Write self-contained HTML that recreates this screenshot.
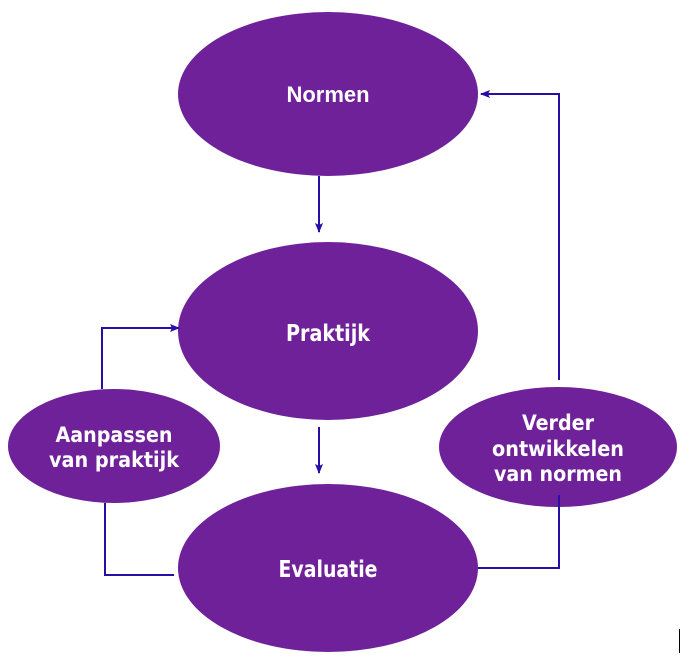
<!DOCTYPE html>
<html><head><meta charset="utf-8"><style>
html,body{margin:0;padding:0;background:#fff;}
svg{display:block;}
</style></head><body>
<svg width="688" height="663" viewBox="0 0 688 663" xmlns="http://www.w3.org/2000/svg">
<defs>
<marker id="ah" markerWidth="10" markerHeight="10" refX="9" refY="5" orient="auto" markerUnits="userSpaceOnUse">
<path d="M0,1 L10,5 L0,9 L2,5 Z" fill="#2a0ca6"/>
</marker>
</defs>
<g fill="#6f219a">
<ellipse cx="328" cy="94" rx="150" ry="82"/>
<ellipse cx="328" cy="331" rx="150" ry="89"/>
<ellipse cx="328" cy="568" rx="150" ry="84"/>
<ellipse cx="114" cy="446" rx="106" ry="57"/>
<ellipse cx="558" cy="447" rx="119" ry="60"/>
</g>
<g stroke="#2a0ca6" stroke-width="2" fill="none">
<line x1="319" y1="176" x2="319" y2="232" marker-end="url(#ah)"/>
<line x1="319" y1="427" x2="319" y2="473" marker-end="url(#ah)"/>
<polyline points="559,380 559,94 481,94" marker-end="url(#ah)"/>
<polyline points="478,568 559,568 559,495"/>
<polyline points="102,389 102,328 179,328" marker-end="url(#ah)"/>
<polyline points="105,503 105,575 174,575"/>
</g>
<line x1="679.5" y1="629" x2="679.5" y2="653" stroke="#000" stroke-width="1"/>
<g fill="#fff" text-anchor="middle" font-weight="bold">
<text x="328" y="102" font-family="Liberation Sans, Arial, sans-serif" font-size="22">Normen</text>
<text x="328" y="341" font-family="DejaVu Sans Condensed, DejaVu Sans, sans-serif" font-size="23" font-stretch="condensed" textLength="84" lengthAdjust="spacingAndGlyphs">Praktijk</text>
<text x="328" y="577" font-family="DejaVu Sans Condensed, DejaVu Sans, sans-serif" font-size="23" font-stretch="condensed" textLength="99" lengthAdjust="spacingAndGlyphs">Evaluatie</text>
<g font-family="DejaVu Sans Condensed, DejaVu Sans, sans-serif" font-size="21" font-stretch="condensed" lengthAdjust="spacingAndGlyphs">
<text x="114" y="442" textLength="117" lengthAdjust="spacingAndGlyphs">Aanpassen</text>
<text x="114" y="467" textLength="130" lengthAdjust="spacingAndGlyphs">van praktijk</text>
<text x="558" y="430" textLength="72" lengthAdjust="spacingAndGlyphs">Verder</text>
<text x="558" y="456" textLength="132" lengthAdjust="spacingAndGlyphs">ontwikkelen</text>
<text x="558" y="481" textLength="128" lengthAdjust="spacingAndGlyphs">van normen</text>
</g>
</g>
</svg>
</body></html>
